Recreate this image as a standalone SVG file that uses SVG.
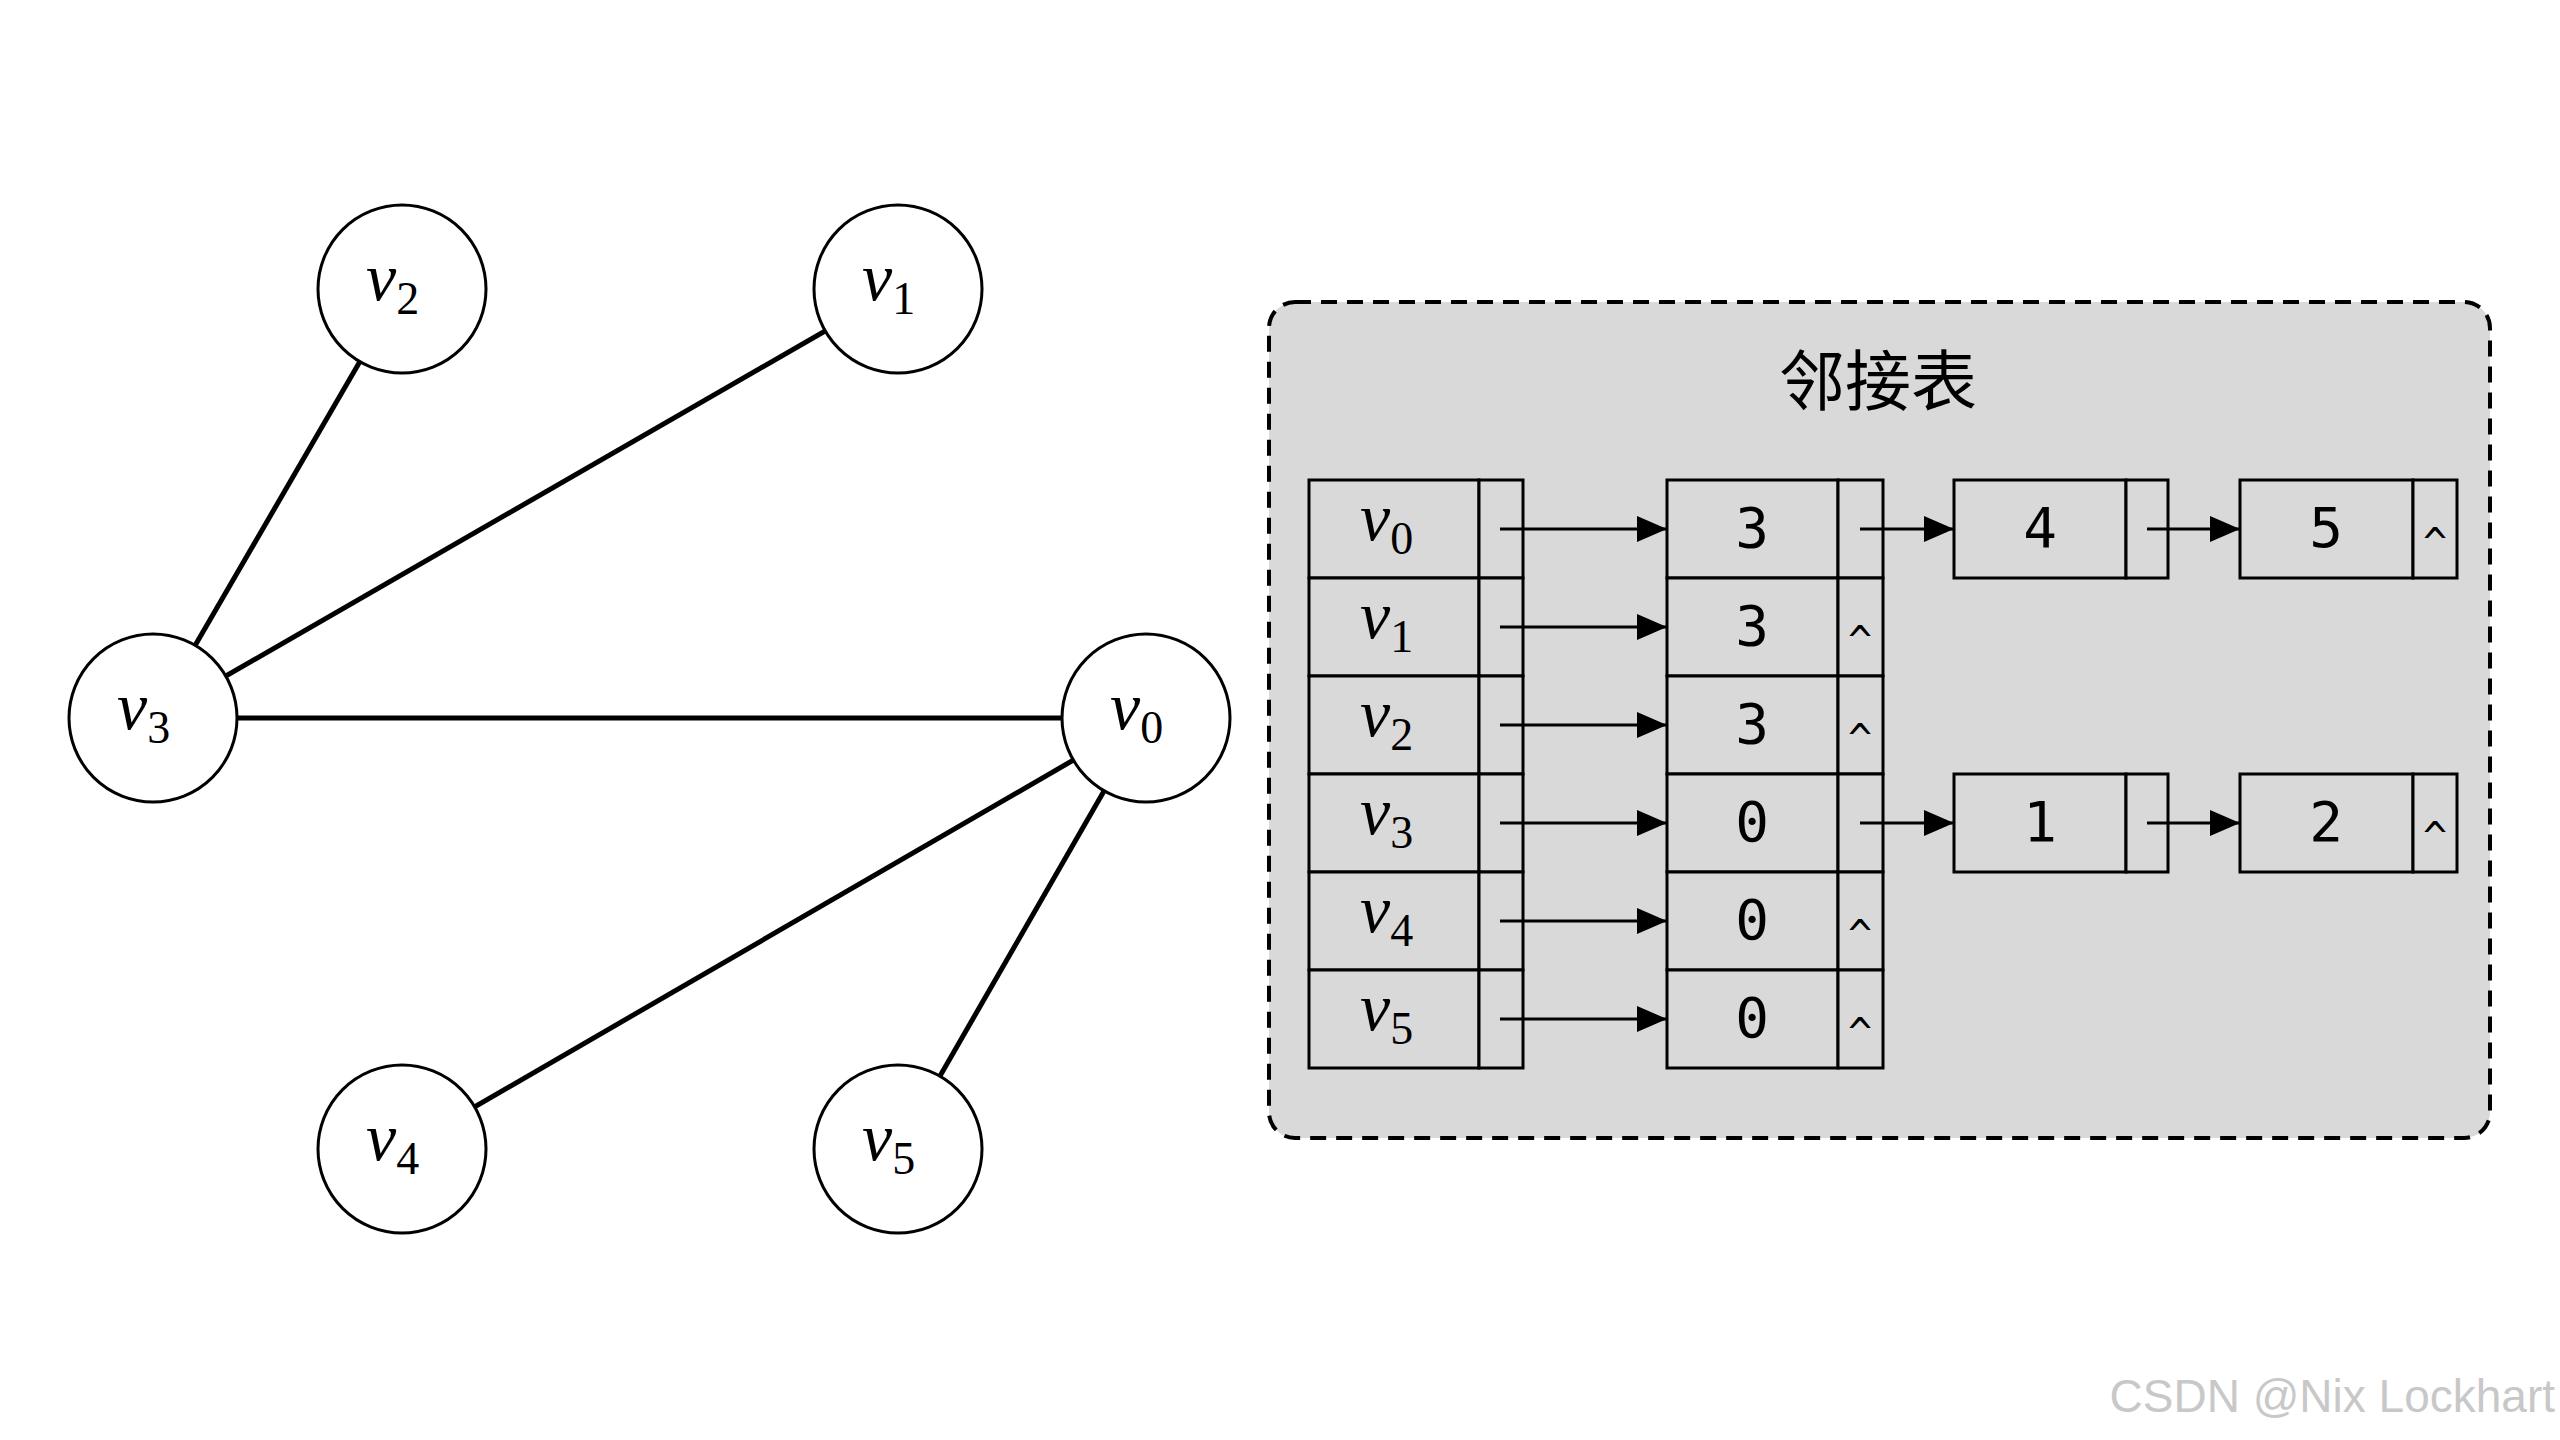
<svg xmlns="http://www.w3.org/2000/svg" width="2560" height="1440" viewBox="0 0 2560 1440">
<defs>
<style>
.e{stroke:#000;stroke-width:5;fill:none}
.c{fill:#fff;stroke:#000;stroke-width:3}
.v{font-family:"Liberation Serif",serif;font-style:italic;font-size:68px}
.s{font-family:"Liberation Serif",serif;font-size:46px;font-style:normal}
.cell{fill:#d9d9d9;stroke:#000;stroke-width:3}
.n{font-family:"DejaVu Sans Mono",monospace;font-size:56px;text-anchor:middle}
.h{font-family:"DejaVu Sans Mono",monospace;font-size:40px;text-anchor:middle}
.a{stroke:#000;stroke-width:3;marker-end:url(#ar)}
</style>
<marker id="ar" markerWidth="30" markerHeight="26" refX="30" refY="13" orient="auto" markerUnits="userSpaceOnUse" viewBox="0 0 30 26"><path d="M0,0L30,13L0,26z"/></marker>
</defs>
<rect width="2560" height="1440" fill="#fff"/>
<g id="edges">
<line class="e" x1="153" y1="718" x2="402" y2="289"/>
<line class="e" x1="153" y1="718" x2="898" y2="289"/>
<line class="e" x1="153" y1="718" x2="1146" y2="718"/>
<line class="e" x1="1146" y1="718" x2="402" y2="1149"/>
<line class="e" x1="1146" y1="718" x2="898" y2="1149"/>
</g>
<g id="v2"><circle class="c" cx="402" cy="289" r="84"/><text class="v" x="366" y="300">v<tspan class="s" dy="14">2</tspan></text></g>
<g id="v1"><circle class="c" cx="898" cy="289" r="84"/><text class="v" x="862" y="300">v<tspan class="s" dy="14">1</tspan></text></g>
<g id="v3"><circle class="c" cx="153" cy="718" r="84"/><text class="v" x="117" y="729">v<tspan class="s" dy="14">3</tspan></text></g>
<g id="v0"><circle class="c" cx="1146" cy="718" r="84"/><text class="v" x="1110" y="729">v<tspan class="s" dy="14">0</tspan></text></g>
<g id="v4"><circle class="c" cx="402" cy="1149" r="84"/><text class="v" x="366" y="1160">v<tspan class="s" dy="14">4</tspan></text></g>
<g id="v5"><circle class="c" cx="898" cy="1149" r="84"/><text class="v" x="862" y="1160">v<tspan class="s" dy="14">5</tspan></text></g>
<g id="adj">
<rect x="1269" y="302" width="1221" height="836" rx="26" fill="#d9d9d9" stroke="#000" stroke-width="4" stroke-dasharray="16,10"/>
<text x="1878" y="405" font-family="Noto Sans CJK SC,sans-serif" font-size="66" text-anchor="middle">邻接表</text>
<g id="heads">
<rect class="cell" x="1309" y="480" width="170" height="98"/><rect class="cell" x="1479" y="480" width="44" height="98"/>
<rect class="cell" x="1309" y="578" width="170" height="98"/><rect class="cell" x="1479" y="578" width="44" height="98"/>
<rect class="cell" x="1309" y="676" width="170" height="98"/><rect class="cell" x="1479" y="676" width="44" height="98"/>
<rect class="cell" x="1309" y="774" width="170" height="98"/><rect class="cell" x="1479" y="774" width="44" height="98"/>
<rect class="cell" x="1309" y="872" width="170" height="98"/><rect class="cell" x="1479" y="872" width="44" height="98"/>
<rect class="cell" x="1309" y="970" width="170" height="98"/><rect class="cell" x="1479" y="970" width="44" height="98"/>
<text class="v" x="1360" y="540">v<tspan class="s" dy="14">0</tspan></text>
<text class="v" x="1360" y="638">v<tspan class="s" dy="14">1</tspan></text>
<text class="v" x="1360" y="736">v<tspan class="s" dy="14">2</tspan></text>
<text class="v" x="1360" y="834">v<tspan class="s" dy="14">3</tspan></text>
<text class="v" x="1360" y="932">v<tspan class="s" dy="14">4</tspan></text>
<text class="v" x="1360" y="1030">v<tspan class="s" dy="14">5</tspan></text>
</g>
<g id="col2">
<rect class="cell" x="1667" y="480" width="171" height="98"/><rect class="cell" x="1838" y="480" width="45" height="98"/>
<rect class="cell" x="1667" y="578" width="171" height="98"/><rect class="cell" x="1838" y="578" width="45" height="98"/>
<rect class="cell" x="1667" y="676" width="171" height="98"/><rect class="cell" x="1838" y="676" width="45" height="98"/>
<rect class="cell" x="1667" y="774" width="171" height="98"/><rect class="cell" x="1838" y="774" width="45" height="98"/>
<rect class="cell" x="1667" y="872" width="171" height="98"/><rect class="cell" x="1838" y="872" width="45" height="98"/>
<rect class="cell" x="1667" y="970" width="171" height="98"/><rect class="cell" x="1838" y="970" width="45" height="98"/>
<text class="n" x="1752" y="547">3</text><text class="n" x="1752" y="645">3</text><text class="n" x="1752" y="743">3</text>
<text class="n" x="1752" y="841">0</text><text class="n" x="1752" y="939">0</text><text class="n" x="1752" y="1037">0</text>
<text class="h" x="1860" y="655">^</text><text class="h" x="1860" y="753">^</text><text class="h" x="1860" y="949">^</text><text class="h" x="1860" y="1047">^</text>
</g>
<g id="n4"><rect class="cell" x="1954" y="480" width="172" height="98"/><rect class="cell" x="2126" y="480" width="42" height="98"/><text class="n" x="2040" y="547">4</text></g>
<g id="n5"><rect class="cell" x="2240" y="480" width="173" height="98"/><rect class="cell" x="2413" y="480" width="44" height="98"/><text class="n" x="2326" y="547">5</text><text class="h" x="2435" y="557">^</text></g>
<g id="n1"><rect class="cell" x="1954" y="774" width="172" height="98"/><rect class="cell" x="2126" y="774" width="42" height="98"/><text class="n" x="2040" y="841">1</text></g>
<g id="n2"><rect class="cell" x="2240" y="774" width="173" height="98"/><rect class="cell" x="2413" y="774" width="44" height="98"/><text class="n" x="2326" y="841">2</text><text class="h" x="2435" y="851">^</text></g>
<g id="arrows">
<line class="a" x1="1500" y1="529" x2="1667" y2="529"/>
<line class="a" x1="1500" y1="627" x2="1667" y2="627"/>
<line class="a" x1="1500" y1="725" x2="1667" y2="725"/>
<line class="a" x1="1500" y1="823" x2="1667" y2="823"/>
<line class="a" x1="1500" y1="921" x2="1667" y2="921"/>
<line class="a" x1="1500" y1="1019" x2="1667" y2="1019"/>
<line class="a" x1="1860" y1="529" x2="1954" y2="529"/>
<line class="a" x1="1860" y1="823" x2="1954" y2="823"/>
<line class="a" x1="2147" y1="529" x2="2240" y2="529"/>
<line class="a" x1="2147" y1="823" x2="2240" y2="823"/>
</g>
</g>
<text x="2555" y="1412" font-family="Liberation Sans,sans-serif" font-size="46" fill="#c8c8c8" text-anchor="end">CSDN @Nix Lockhart</text>
</svg>
